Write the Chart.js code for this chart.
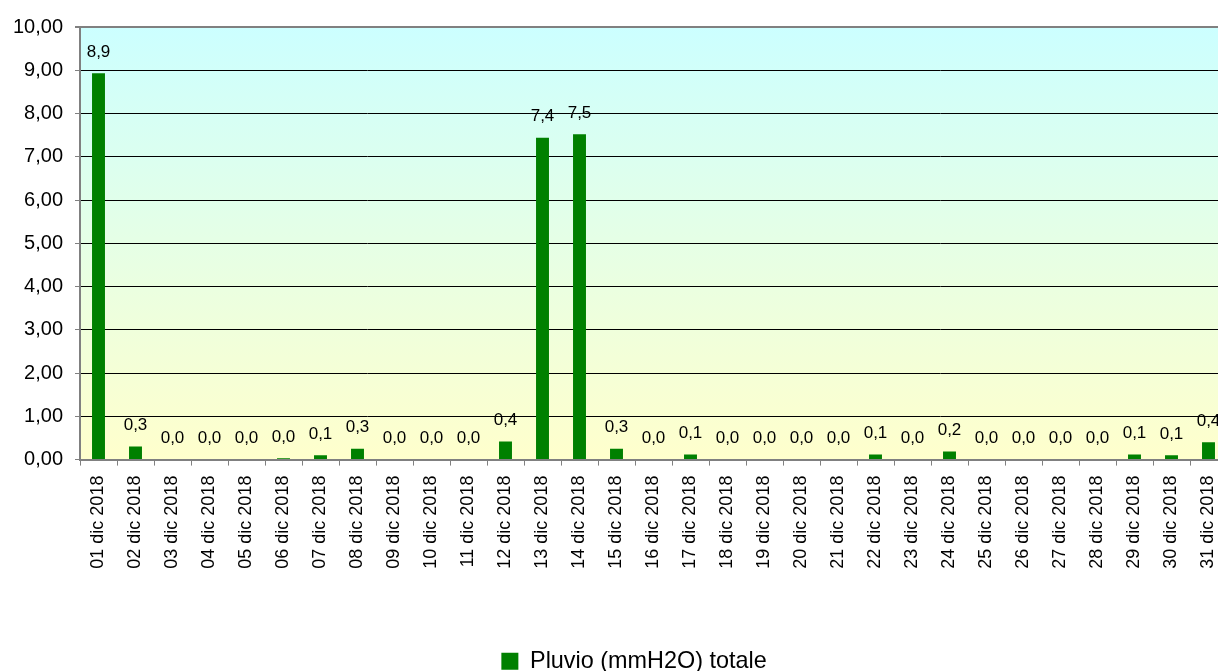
<!DOCTYPE html>
<html>
<head>
<meta charset="utf-8">
<script src="https://cdn.jsdelivr.net/npm/chart.js@4/dist/chart.umd.min.js"></script>
<style>
  html, body { margin: 0; padding: 0; background: #fff; overflow: hidden; }
  #wrap { width: 1268px; height: 700px; }
</style>
</head>
<body>
<div id="wrap"><canvas id="pluvioChart" width="1268" height="700"></canvas></div>
<script>
var days = ["01 dic 2018", "02 dic 2018", "03 dic 2018", "04 dic 2018", "05 dic 2018", "06 dic 2018", "07 dic 2018",
    "08 dic 2018", "09 dic 2018", "10 dic 2018", "11 dic 2018", "12 dic 2018", "13 dic 2018", "14 dic 2018",
    "15 dic 2018", "16 dic 2018", "17 dic 2018", "18 dic 2018", "19 dic 2018", "20 dic 2018", "21 dic 2018",
    "22 dic 2018", "23 dic 2018", "24 dic 2018", "25 dic 2018", "26 dic 2018", "27 dic 2018", "28 dic 2018",
    "29 dic 2018", "30 dic 2018", "31 dic 2018"];
var pluvio = [8.93, 0.3, 0, 0, 0, 0.03, 0.1, 0.25, 0, 0, 0, 0.42, 7.44, 7.52, 0.25, 0, 0.12,
    0, 0, 0, 0, 0.12, 0, 0.19, 0, 0, 0, 0, 0.12, 0.1, 0.4];
var yTicks = [0, 1, 2, 3, 4, 5, 6, 7, 8, 9, 10];

var font = "'Liberation Sans', Arial, sans-serif";

function comma(v, d) {
    return v.toFixed(d).replace('.', ',');
}

// sfondo sfumato dell'area del grafico
var bgPlugin = {
    id: 'bg',
    beforeDraw: function(chart) {
        var a = chart.chartArea, ctx = chart.ctx;
        var g = ctx.createLinearGradient(0, a.top, 0, a.bottom);
        g.addColorStop(0, '#ccffff');
        g.addColorStop(1, '#ffffcc');
        ctx.save();
        ctx.fillStyle = g;
        ctx.fillRect(a.left, a.top, a.right - a.left, a.bottom - a.top);
        ctx.restore();
    },
    // legenda centrata su tutta la larghezza
    afterLayout: function(chart) {
        if (chart.legend) {
            chart.legend.left += 41;
        }
    }
};

// etichette sopra le barre
var labelPlugin = {
    id: 'barLabels',
    afterDatasetsDraw: function(chart) {
        var ctx = chart.ctx;
        var meta = chart.getDatasetMeta(0);
        ctx.save();
        ctx.font = '17px ' + font;
        ctx.fillStyle = '#000';
        ctx.textAlign = 'center';
        ctx.textBaseline = 'middle';
        meta.data.forEach(function(bar, i) {
            ctx.fillText(comma(pluvio[i], 1), bar.x, bar.y - 21);
        });
        ctx.restore();
    }
};

var chart = new Chart(document.getElementById('pluvioChart'), {
    type: 'bar',
    data: {
        labels: days,
        datasets: [{
            label: 'Pluvio (mmH2O) totale',
            data: pluvio,
            backgroundColor: '#008000',
            borderWidth: 0,
            categoryPercentage: 1,
            barPercentage: 0.35
        }]
    },
    options: {
        responsive: false,
        animation: false,
        layout: {
            padding: { top: 27, right: 41, left: 0, bottom: 17 }
        },
        scales: {
            x: {
                grid: {
                    drawOnChartArea: false,
                    tickLength: 6,
                    tickColor: '#808080',
                    offset: true
                },
                border: { color: '#808080', width: 2 },
                ticks: {
                    minRotation: 90,
                    maxRotation: 90,
                    autoSkip: false,
                    padding: 10,
                    color: '#000',
                    font: { family: font, size: 18 }
                },
                afterFit: function(scale) { scale.height = 180; }
            },
            y: {
                min: 0,
                max: 10,
                afterBuildTicks: function(scale) {
                    scale.ticks = yTicks.map(function(v) { return { value: v }; });
                },
                grid: {
                    color: function(c) { return c.tick && c.tick.value === 10 ? '#808080' : '#000'; },
                    lineWidth: function(c) { return c.tick && c.tick.value === 10 ? 2 : 1; },
                    tickLength: 5,
                    tickColor: '#808080'
                },
                border: { color: '#808080', width: 2 },
                ticks: {
                    padding: 12,
                    color: '#000',
                    font: { family: font, size: 20 },
                    callback: function(v) { return comma(v, 2); }
                },
                afterFit: function(scale) { scale.width = 80; }
            }
        },
        plugins: {
            legend: {
                position: 'bottom',
                labels: {
                    boxWidth: 17,
                    boxHeight: 17,
                    padding: 10,
                    color: '#000',
                    font: { family: font, size: 23.4 }
                }
            },
            tooltip: { enabled: false }
        }
    },
    plugins: [bgPlugin, labelPlugin]
});
</script>
</body>
</html>
